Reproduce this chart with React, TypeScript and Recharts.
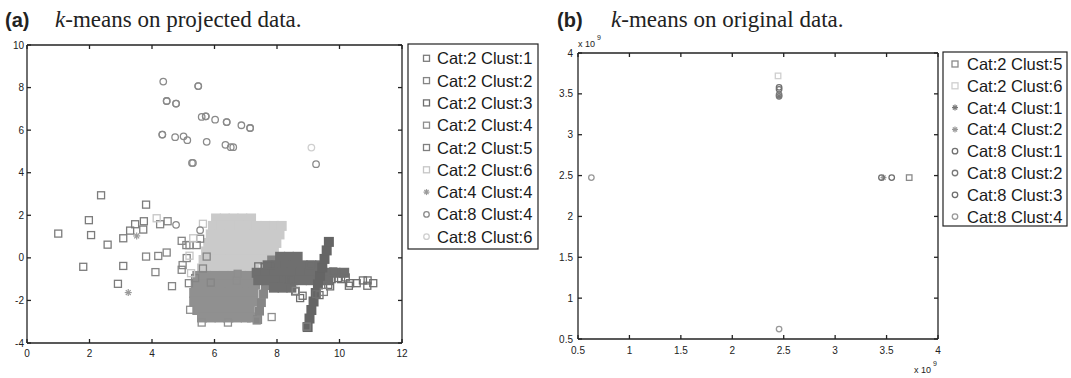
import React from 'react';
import { Scatter, ScatterChart, XAxis, YAxis } from 'recharts';

type Pt = [number, number];
type Row = [number, number[]];
type Mark = 'square' | 'circle' | 'star' | 'block';

const FONT = '"Liberation Sans", Arial, Helvetica, sans-serif';
const SERIF = '"Liberation Serif", "Times New Roman", serif';

// ---------- (a) k-means on projected data ----------
const xTicksA = [0, 2, 4, 6, 8, 10, 12];
const yTicksA = [-4, -2, 0, 2, 4, 6, 8, 10];

// dense masses (thousands of overlapping points), read as rows: [y, xs]
const lightCoreRows: Row[] = [
  [1.85, [6.05, 6.33, 6.61, 6.89, 7.17]],
  [1.5, [5.95, 6.23, 6.51, 6.79, 7.07, 7.35, 7.63, 7.91, 8.15]],
  [1.1, [5.88, 6.16, 6.44, 6.72, 7.0, 7.28, 7.56, 7.84, 8.08]],
  [0.7, [5.8, 6.08, 6.36, 6.64, 6.92, 7.2, 7.48, 7.76, 7.98]],
  [0.3, [5.73, 6.01, 6.29, 6.57, 6.85, 7.13, 7.41, 7.69, 7.9]],
  [-0.1, [5.65, 5.93, 6.21, 6.49, 6.77, 7.05, 7.33, 7.6, 7.8]],
  [-0.5, [5.6, 5.88, 6.16, 6.44, 6.72, 7.0, 7.28]],
];
const mediumCoreRows: Row[] = [
  [-0.85, [5.45, 5.73, 6.01, 6.29, 6.57, 6.85, 7.13, 7.35]],
  [-1.25, [5.4, 5.68, 5.96, 6.24, 6.52, 6.8, 7.08, 7.3]],
  [-1.65, [5.35, 5.63, 5.91, 6.19, 6.47, 6.75, 7.03, 7.25]],
  [-2.05, [5.35, 5.63, 5.91, 6.19, 6.47, 6.75, 7.03, 7.2]],
  [-2.45, [5.45, 5.73, 6.01, 6.29, 6.57, 6.85, 7.13]],
  [-2.8, [5.6, 5.88, 6.16, 6.44, 6.72, 7.0, 7.2]],
];
const mediumStripe: Pt[] = [
  [7.38, -2.9], [7.44, -2.5], [7.5, -2.1], [7.57, -1.7], [7.63, -1.3], [7.7, -0.9], [7.77, -0.5], [7.83, -0.1],
];
const darkCoreRows: Row[] = [
  [0.05, [8.1, 8.38, 8.66]],
  [-0.35, [7.7, 7.98, 8.26, 8.54, 8.82, 9.1, 9.38]],
  [-0.7, [7.35, 7.63, 7.91, 8.19, 8.47, 8.75, 9.03, 9.31, 9.59, 9.87, 10.15]],
  [-1.05, [7.4, 7.68, 7.96, 8.24, 8.52, 8.8, 9.08, 9.36, 9.64]],
  [-1.4, [7.9, 8.18, 8.46]],
];
const steepStripe: Pt[] = [
  [8.98, -3.25], [9.04, -2.85], [9.1, -2.45], [9.17, -2.05], [9.24, -1.65], [9.31, -1.25],
  [9.38, -0.85], [9.45, -0.45], [9.52, -0.05], [9.59, 0.35], [9.66, 0.75],
];

// individual points
const c2k1: Pt[] = [
  [1.0, 1.14], [1.98, 1.77], [2.05, 1.07], [2.58, 0.62], [1.8, -0.42], [3.08, -0.38], [2.91, -1.22],
  [3.08, 0.92], [3.3, 1.28], [3.46, 1.58], [3.74, 1.72], [3.72, 1.33], [2.37, 2.94], [3.81, 2.5],
];
const c2k2: Pt[] = [
  [3.81, 0.06], [4.2, 0.09], [4.47, 0.25], [4.11, -0.67], [4.64, -1.33], [4.26, 1.58], [4.5, 1.72],
  [4.95, 0.8], [5.1, 0.6], [5.2, 0.6], [5.43, 0.6], [5.54, 0.9], [4.98, -0.34], [4.95, -0.56],
  [5.11, -0.01], [5.18, -1.19], [5.38, -0.95], [5.75, 0.06], [5.63, -0.5], [5.88, -1.16],
];
const c2k3: Pt[] = [
  [7.4, -0.4], [7.6, -0.42], [7.83, -0.33], [8.31, -1.07], [8.42, -1.03], [8.58, -1.58], [8.74, -1.89],
  [8.82, -1.78], [9.06, -0.33], [9.25, -1.7], [9.36, -1.75], [9.64, -1.27], [9.7, -1.34], [9.75, -1.0],
  [9.95, -0.95], [10.05, -1.0], [10.12, -0.72], [10.2, -0.92], [10.3, -1.31], [10.34, -1.19],
  [10.55, -1.19], [10.75, -1.06], [10.9, -1.06], [10.89, -1.31], [11.08, -1.19], [9.8, -0.64],
];
const c2k4: Pt[] = [
  [5.22, -2.44], [5.59, -3.04], [6.43, -3.04], [7.35, -2.94], [7.83, -2.78], [6.71, -1.08], [6.74, -0.75],
];
const c2k5: Pt[] = [[8.6, -1.55], [9.5, -1.6], [8.95, -3.23]];
const c2k6: Pt[] = [[4.15, 1.86], [5.63, 1.6], [5.25, -0.72], [5.32, 0.92], [5.2, 0.1]];
const c4k4: Pt[] = [[3.51, 1.03], [3.24, -1.63]];
const c8k4: Pt[] = [
  [4.36, 8.28], [5.48, 8.07], [5.48, 8.07], [4.47, 7.37], [4.47, 7.37], [4.77, 7.25], [4.77, 7.25],
  [5.59, 6.62], [5.72, 6.65], [5.72, 6.65], [6.02, 6.49], [6.39, 6.38], [6.39, 6.38], [6.86, 6.23],
  [7.14, 6.1], [7.14, 6.1], [4.33, 5.79], [4.33, 5.79], [4.74, 5.67], [5.01, 5.71], [5.13, 5.53],
  [5.75, 5.45], [6.35, 5.31], [6.52, 5.2], [6.6, 5.2], [5.28, 4.46], [5.31, 4.46], [9.25, 4.4],
  [4.77, 1.55], [5.54, 1.3],
];
const c8k6: Pt[] = [[9.1, 5.18]];

// ---------- (b) k-means on original data (x10^9) ----------
const ticksB = [0.5e9, 1e9, 1.5e9, 2e9, 2.5e9, 3e9, 3.5e9, 4e9];
const b2k5: Pt[] = [[3.72e9, 2.475e9]];
const b2k6: Pt[] = [[2.445e9, 3.72e9]];
const b4k1: Pt[] = [[2.455e9, 3.47e9]];
const b4k2: Pt[] = [[3.47e9, 2.475e9]];
const b8k1: Pt[] = [[2.455e9, 3.58e9], [2.455e9, 3.555e9]];
const b8k2: Pt[] = [[2.455e9, 3.47e9], [2.455e9, 3.49e9]];
const b8k3: Pt[] = [[3.45e9, 2.475e9], [3.55e9, 2.475e9]];
const b8k4: Pt[] = [[0.63e9, 2.475e9], [2.455e9, 0.622e9]];

const rowsToPts = (rows: Row[]): Pt[] => rows.flatMap(([y, xs]) => xs.map((x) => [x, y] as Pt));
const toData = (pts: Pt[]) => pts.map(([x, y]) => ({ x, y }));

interface Series {
  name: string;
  color: string;
  mark: Mark;
  size: number;
  data: Pt[];
  legend?: boolean;
}

const seriesA: Series[] = [
  { name: 'light core', color: '#cacaca', mark: 'block', size: 10, data: rowsToPts(lightCoreRows) },
  { name: 'medium core', color: '#909090', mark: 'block', size: 10, data: rowsToPts(mediumCoreRows) },
  { name: 'medium stripe', color: '#868686', mark: 'block', size: 9, data: mediumStripe },
  { name: 'dark core', color: '#6f6f6f', mark: 'block', size: 10, data: rowsToPts(darkCoreRows) },
  { name: 'steep stripe', color: '#656565', mark: 'block', size: 10, data: steepStripe },
  { name: 'Cat:2 Clust:1', color: '#7c7c7c', mark: 'square', size: 7, data: c2k1, legend: true },
  { name: 'Cat:2 Clust:2', color: '#858585', mark: 'square', size: 7, data: c2k2, legend: true },
  { name: 'Cat:2 Clust:3', color: '#6f6f6f', mark: 'square', size: 7, data: c2k3, legend: true },
  { name: 'Cat:2 Clust:4', color: '#8e8e8e', mark: 'square', size: 7, data: c2k4, legend: true },
  { name: 'Cat:2 Clust:5', color: '#7f7f7f', mark: 'square', size: 7, data: c2k5, legend: true },
  { name: 'Cat:2 Clust:6', color: '#c6c6c6', mark: 'square', size: 7, data: c2k6, legend: true },
  { name: 'Cat:4 Clust:4', color: '#9a9a9a', mark: 'star', size: 7, data: c4k4, legend: true },
  { name: 'Cat:8 Clust:4', color: '#8a8a8a', mark: 'circle', size: 6.5, data: c8k4, legend: true },
  { name: 'Cat:8 Clust:6', color: '#cfcfcf', mark: 'circle', size: 6.5, data: c8k6, legend: true },
];

const seriesB: Series[] = [
  { name: 'Cat:2 Clust:5', color: '#8a8a8a', mark: 'square', size: 5.5, data: b2k5, legend: true },
  { name: 'Cat:2 Clust:6', color: '#cfcfcf', mark: 'square', size: 5.5, data: b2k6, legend: true },
  { name: 'Cat:4 Clust:1', color: '#777777', mark: 'star', size: 6, data: b4k1, legend: true },
  { name: 'Cat:4 Clust:2', color: '#999999', mark: 'star', size: 6, data: b4k2, legend: true },
  { name: 'Cat:8 Clust:1', color: '#707070', mark: 'circle', size: 5.5, data: b8k1, legend: true },
  { name: 'Cat:8 Clust:2', color: '#7a7a7a', mark: 'circle', size: 5.5, data: b8k2, legend: true },
  { name: 'Cat:8 Clust:3', color: '#6e6e6e', mark: 'circle', size: 5.5, data: b8k3, legend: true },
  { name: 'Cat:8 Clust:4', color: '#999999', mark: 'circle', size: 5.5, data: b8k4, legend: true },
];

function Marker({ mark, color, size, cx, cy }: { mark: Mark; color: string; size: number; cx: number; cy: number }) {
  const h = size / 2;
  if (mark === 'block') return <rect x={cx - h} y={cy - h} width={size} height={size} fill={color} />;
  if (mark === 'square')
    return <rect x={cx - h} y={cy - h} width={size} height={size} fill="none" stroke={color} strokeWidth={1.3} />;
  if (mark === 'circle') return <circle cx={cx} cy={cy} r={h} fill="none" stroke={color} strokeWidth={1.3} />;
  const d = h * 0.7;
  return (
    <g stroke={color} strokeWidth={1.2}>
      <line x1={cx - h} y1={cy} x2={cx + h} y2={cy} />
      <line x1={cx} y1={cy - h} x2={cx} y2={cy + h} />
      <line x1={cx - d} y1={cy - d} x2={cx + d} y2={cy + d} />
      <line x1={cx - d} y1={cy + d} x2={cx + d} y2={cy - d} />
    </g>
  );
}

const shapeFor = (s: Series) => (props: any) => {
  if (props.cx == null || props.cy == null) return <g />;
  return <Marker mark={s.mark} color={s.color} size={s.size} cx={props.cx} cy={props.cy} />;
};

const axisStyle = { stroke: '#222', strokeWidth: 1.3 };
const tickStyle = { fill: '#222', fontSize: 10, fontFamily: FONT };
const blank = () => '';

function LegendBox({ series, left, top, width, height, firstRow, pitch, markX, textX }: {
  series: Series[]; left: number; top: number; width: number; height: number;
  firstRow: number; pitch: number; markX: number; textX: number;
}) {
  const items = series.filter((s) => s.legend);
  return (
    <g>
      <rect x={left} y={top} width={width} height={height} fill="#fff" stroke="#222" strokeWidth={1.2} />
      {items.map((s, i) => (
        <g key={s.name}>
          <Marker mark={s.mark} color={s.color} size={s.mark === 'circle' ? 5.5 : 6} cx={markX} cy={firstRow + i * pitch} />
          <text x={textX} y={firstRow + i * pitch + 6} fontSize={16.5} fontFamily={FONT} fill="#1a1a1a">
            {s.name}
          </text>
        </g>
      ))}
    </g>
  );
}

const fmtB = (v: number) => String(Math.round((v / 1e9) * 10) / 10);

export default function App() {
  return (
    <div style={{ position: 'absolute', left: 0, top: 0, width: 1071, height: 378, background: '#fff' }}>
      <div style={{ position: 'absolute', left: 0, top: 0 }}>
        <ScatterChart width={540} height={378} margin={{ top: 40, right: 133, bottom: 10, left: 7 }}>
          <XAxis type="number" dataKey="x" domain={[0, 12]} ticks={xTicksA} interval={0} height={25}
            tickSize={-4} tickMargin={11} axisLine={axisStyle} tickLine={axisStyle} tick={tickStyle} allowDataOverflow />
          <XAxis xAxisId="top" orientation="top" type="number" dataKey="x" domain={[0, 12]} ticks={xTicksA} interval={0}
            height={5} tickSize={-4} axisLine={axisStyle} tickLine={axisStyle} tickFormatter={blank} allowDataOverflow />
          <YAxis type="number" dataKey="y" domain={[-4, 10]} ticks={yTicksA} interval={0} width={20}
            tickSize={-4} tickMargin={7} axisLine={axisStyle} tickLine={axisStyle} tick={tickStyle} allowDataOverflow />
          <YAxis yAxisId="right" orientation="right" type="number" dataKey="y" domain={[-4, 10]} ticks={yTicksA} interval={0}
            width={5} tickSize={-4} axisLine={axisStyle} tickLine={axisStyle} tickFormatter={blank} allowDataOverflow />
          {seriesA.map((s) => (
            <Scatter key={s.name} name={s.name} data={toData(s.data)} shape={shapeFor(s)} isAnimationActive={false} />
          ))}
        </ScatterChart>
      </div>
      <div style={{ position: 'absolute', left: 540, top: 0 }}>
        <ScatterChart width={531} height={378} margin={{ top: 48, right: 128, bottom: 14, left: 8 }}>
          <XAxis type="number" dataKey="x" domain={[0.5e9, 4e9]} ticks={ticksB} interval={0} height={25}
            tickSize={-4} tickMargin={12} axisLine={axisStyle} tickLine={axisStyle} tick={tickStyle}
            tickFormatter={fmtB} allowDataOverflow />
          <XAxis xAxisId="top" orientation="top" type="number" dataKey="x" domain={[0.5e9, 4e9]} ticks={ticksB} interval={0}
            height={5} tickSize={-4} axisLine={axisStyle} tickLine={axisStyle} tickFormatter={blank} allowDataOverflow />
          <YAxis type="number" dataKey="y" domain={[0.5e9, 4e9]} ticks={ticksB} interval={0} width={30}
            tickSize={-4} tickMargin={9} axisLine={axisStyle} tickLine={axisStyle} tick={tickStyle}
            tickFormatter={fmtB} allowDataOverflow />
          <YAxis yAxisId="right" orientation="right" type="number" dataKey="y" domain={[0.5e9, 4e9]} ticks={ticksB} interval={0}
            width={5} tickSize={-4} axisLine={axisStyle} tickLine={axisStyle} tickFormatter={blank} allowDataOverflow />
          {seriesB.map((s) => (
            <Scatter key={s.name} name={s.name} data={toData(s.data)} shape={shapeFor(s)} isAnimationActive={false} />
          ))}
        </ScatterChart>
      </div>
      <svg width={1071} height={378} style={{ position: 'absolute', left: 0, top: 0, pointerEvents: 'none' }}>
        <text x={5} y={27} fontSize={20} fontWeight="bold" fontFamily={FONT} fill="#222">(a)</text>
        <text x={55} y={27} fontSize={23} fontFamily={SERIF} fill="#222">
          <tspan fontStyle="italic">k</tspan>-means on projected data.
        </text>
        <text x={557} y={27} fontSize={20} fontWeight="bold" fontFamily={FONT} fill="#222">(b)</text>
        <text x={611} y={27} fontSize={23} fontFamily={SERIF} fill="#222">
          <tspan fontStyle="italic">k</tspan>-means on original data.
        </text>
        <text x={578} y={47} fontSize={9} fontFamily={FONT} fill="#222">x 10</text>
        <text x={597} y={40} fontSize={7} fontFamily={FONT} fill="#222">9</text>
        <text x={914} y={373} fontSize={9} fontFamily={FONT} fill="#222">x 10</text>
        <text x={933} y={366} fontSize={7} fontFamily={FONT} fill="#222">9</text>
        <LegendBox series={seriesA} left={408} top={44} width={130} height={205} firstRow={58.3} pitch={22.3} markX={426.5} textX={437} />
        <LegendBox series={seriesB} left={943} top={52} width={124} height={174} firstRow={64} pitch={21.8} markX={955} textX={967} />
      </svg>
    </div>
  );
}
